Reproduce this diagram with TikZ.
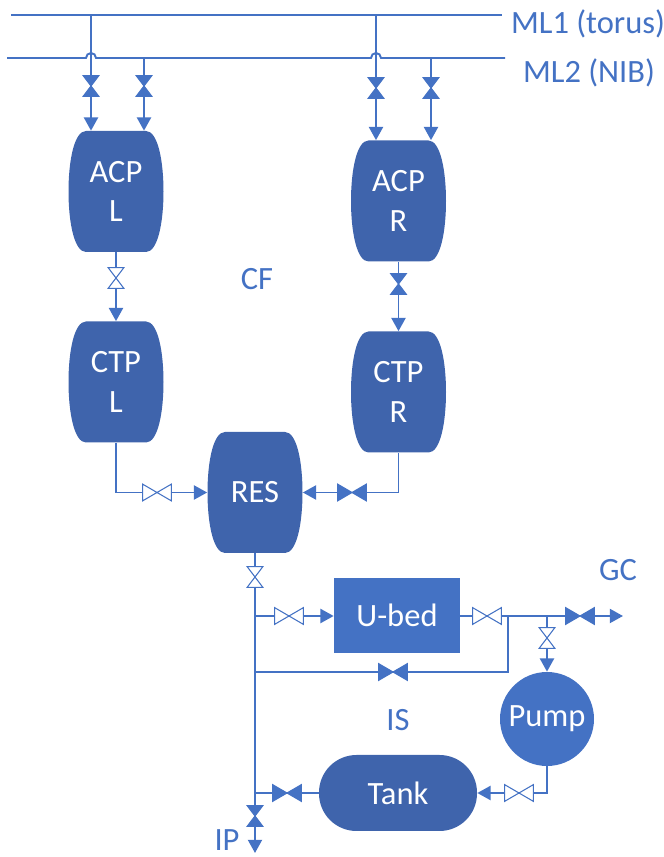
\documentclass[tikz,border=0pt]{standalone}
\usepackage{fontspec}
\setmainfont{Carlito}
\usetikzlibrary{arrows.meta}

\definecolor{pipeblue}{HTML}{4472C4}
\definecolor{vesselblue}{HTML}{3F64AC}

\tikzset{
    pipe/.style={draw=pipeblue, line width=1.1pt},
    flow/.style={pipe, -{Triangle[width=8pt, length=7.5pt]}},
    label/.style={text=pipeblue, font=\fontsize{18.5}{22.7}\selectfont, inner sep=0pt},
    unit/.style={text=white, align=center, inner sep=0pt, font=\fontsize{18.5}{22.7}\selectfont},
    hvalve/.style={minimum width=.56cm, minimum height=.32cm, inner sep=0pt,
        append after command={\pgfextra{
            \draw[draw=pipeblue, line width=.6pt, fill=#1]
                (\tikzlastnode.north west) -- (\tikzlastnode.south east)
                -- (\tikzlastnode.north east) -- (\tikzlastnode.south west) -- cycle;
        }}},
    vvalve/.style={minimum width=.3cm, minimum height=.4cm, inner sep=0pt,
        append after command={\pgfextra{
            \draw[draw=pipeblue, line width=.6pt, fill=#1]
                (\tikzlastnode.north west) -- (\tikzlastnode.north east)
                -- (\tikzlastnode.south west) -- (\tikzlastnode.south east) -- cycle;
        }}},
}

\newcommand{\vessel}[3]{
    \fill[vesselblue, shift={(#2)}]
        (-.6,1.21) -- (.6,1.21)
        .. controls (.84,1.21) and (.95,.6) .. (.95,0)
        .. controls (.95,-.6) and (.84,-1.21) .. (.6,-1.21)
        -- (-.6,-1.21)
        .. controls (-.84,-1.21) and (-.95,-.6) .. (-.95,0)
        .. controls (-.95,.6) and (-.84,1.21) .. (-.6,1.21) -- cycle;
    \node[unit, minimum width=1.9cm, minimum height=2.42cm] (#1) at (#2) {#3};
}

\begin{document}
\begin{tikzpicture}
    \useasboundingbox (0, 0) rectangle (13.28, 17.14);

    \vessel{acpL}{2.32, 13.31}{ACP\\L}
    \vessel{acpR}{7.97, 13.12}{ACP\\R}
    \vessel{ctpL}{2.32, 9.50}{CTP\\L}
    \vessel{ctpR}{7.97, 9.30}{CTP\\R}
    \vessel{res}{5.10, 7.29}{RES}

    \node[unit, fill=pipeblue, minimum width=2.52cm, minimum height=1.5cm] (ubed) at (7.94, 4.83) {U-bed};
    \node[unit, fill=pipeblue, circle, minimum size=1.88cm] (pump) at (10.94, 2.76) {Pump};
    \node[unit, fill=vesselblue, rounded corners=.75cm, minimum width=3.16cm, minimum height=1.52cm] (tank) at (7.96, 1.28) {Tank};

    \node[label] (ml1) at (11.76, 16.66) {ML1 (torus)};
    \node[label] (ml2) at (11.78, 15.68) {ML2 (NIB)};
    \node[label] (cf) at (5.14, 11.56) {CF};
    \node[label] (is) at (7.96, 2.74) {IS};
    \node[label] (gc) at (12.36, 5.74) {GC};
    \node[label] (ip) at (4.54, 0.34) {IP};

    \coordinate (ml1W) at (0.22, 16.84);
    \coordinate (ml1E) at (10.04, 16.84);
    \coordinate (ml1A) at (1.82, 16.84);
    \coordinate (ml1B) at (7.52, 16.84);
    \coordinate (ml2W) at (0.14, 15.98);
    \coordinate (ml2E) at (10.10, 15.98);
    \coordinate (ml2A) at (2.88, 15.98);
    \coordinate (ml2B) at (8.62, 15.98);
    \coordinate (hopA) at (1.72, 15.98);
    \coordinate (hopB) at (7.42, 15.98);

    \coordinate (teeUbed) at (5.10, 4.82);
    \coordinate (teeBypass) at (5.10, 3.70);
    \coordinate (teeTank) at (5.10, 1.28);
    \coordinate (ipEnd) at (5.10, 0.08);
    \coordinate (byTop) at (10.16, 4.82);
    \coordinate (byBottom) at (10.16, 3.70);
    \coordinate (teePump) at (10.94, 4.82);
    \coordinate (gcEnd) at (12.46, 4.82);

    \node[vvalve=pipeblue] (vA) at (1.82, 15.42) {};
    \node[vvalve=pipeblue] (vB) at (2.88, 15.42) {};
    \node[vvalve=pipeblue] (vC) at (7.52, 15.38) {};
    \node[vvalve=pipeblue] (vD) at (8.62, 15.38) {};
    \node[vvalve=white] (vL) at (2.32, 11.58) {};
    \node[vvalve=pipeblue] (vR) at (7.97, 11.46) {};
    \node[hvalve=white] (vResL) at (3.14, 7.29) {};
    \node[hvalve=pipeblue] (vResR) at (7.04, 7.29) {};
    \node[vvalve=white] (vRes) at (5.10, 5.60) {};
    \node[hvalve=white] (vUbedL) at (5.78, 4.82) {};
    \node[hvalve=white] (vUbedR) at (9.74, 4.82) {};
    \node[hvalve=pipeblue] (vGc) at (11.60, 4.82) {};
    \node[vvalve=white] (vPump) at (10.94, 4.38) {};
    \node[hvalve=pipeblue] (vBypass) at (7.86, 3.70) {};
    \node[hvalve=white] (vTankR) at (10.38, 1.28) {};
    \node[hvalve=pipeblue] (vTankL) at (5.74, 1.28) {};
    \node[vvalve=pipeblue] (vIp) at (5.10, 0.82) {};

    \draw[pipe] (ml1W)--(ml1E);
    \draw[pipe] (ml2W)--(hopA) arc[start angle=180, end angle=0, radius=0.1]--(hopB) arc[start angle=180, end angle=0, radius=0.1]--(ml2E);

    \draw[pipe] (ml1A)--(vA);
    \draw[pipe] (ml2A)--(vB);
    \draw[pipe] (ml1B)--(vC);
    \draw[pipe] (ml2B)--(vD);
    \draw[flow] (vA)--(vA |- acpL.north);
    \draw[flow] (vB)--(vB |- acpL.north);
    \draw[flow] (vC)--(vC |- acpR.north);
    \draw[flow] (vD)--(vD |- acpR.north);

    \draw[pipe] (acpL)--(vL);
    \draw[flow] (vL)--(ctpL);
    \draw[pipe] (acpR)--(vR);
    \draw[flow] (vR)--(ctpR);

    \draw[pipe] (ctpL.south) |- (vResL);
    \draw[flow] (vResL)--(res);
    \draw[pipe] (ctpR.south) |- (vResR);
    \draw[flow] (vResR)--(res);

    \draw[pipe] (res)--(vRes);
    \draw[pipe] (vRes)--(vIp);
    \draw[flow] (vIp)--(ipEnd);

    \draw[pipe] (teeUbed)--(vUbedL);
    \draw[flow] (vUbedL)--(vUbedL -| ubed.west);
    \draw[pipe] (vUbedR -| ubed.east)--(vUbedR);
    \draw[pipe] (vUbedR)--(vGc);
    \draw[flow] (vGc)--(gcEnd);

    \draw[pipe] (byTop)--(byBottom)--(vBypass);
    \draw[pipe] (vBypass)--(teeBypass);

    \draw[pipe] (teePump)--(vPump);
    \draw[flow] (vPump)--(pump);
    \draw[pipe] (pump.south) |- (vTankR);
    \draw[flow] (vTankR)--(tank);
    \draw[pipe] (tank)--(vTankL);
    \draw[pipe] (vTankL)--(teeTank);
\end{tikzpicture}
\end{document}
